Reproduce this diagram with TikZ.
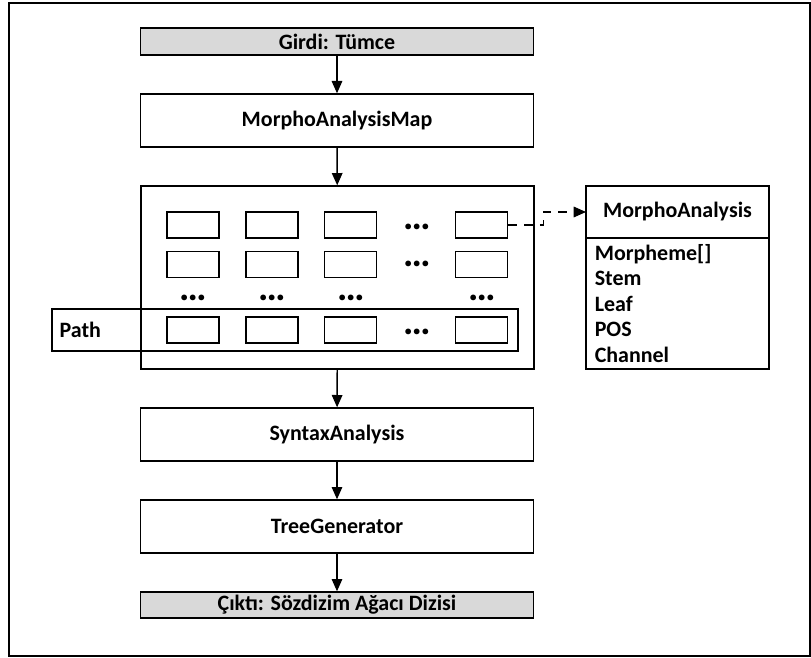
\documentclass[tikz,border=0pt]{standalone}
\usepackage{fontspec}
\setmainfont{Carlito}
\usetikzlibrary{arrows.meta,positioning}

\begin{document}
\begin{tikzpicture}[x=0.02cm, y=-0.02cm, >={Triangle[width=6pt,length=7pt]},
  font=\fontsize{12.5}{14.5}\selectfont\bfseries,
  box/.style={draw, line width=0.8pt, minimum width=7.86cm, minimum height=1.06cm, inner sep=0pt},
  iobox/.style={box, fill=black!15, minimum height=0.54cm},
  cell/.style={draw, line width=0.8pt, minimum width=1.04cm, minimum height=0.52cm, inner sep=0pt},
  dots/.style={inner sep=0pt, font=\fontsize{22}{22}\selectfont\bfseries},
  flow/.style={->, line width=0.8pt}]

  \useasboundingbox (0,0) rectangle (811,658);
  \draw[line width=1.2pt] (9,3) rectangle (810,656);

  \node[iobox] (inp) at (337,41.5) {Girdi: Tümce};
  \node[box] (mapbox) at (337,120.5) {MorphoAnalysisMap};
  \node[box, minimum height=3.66cm] (grid) at (337.5,277.5) {};
  \node[box] (syn) at (337,434.5) {SyntaxAnalysis};
  \node[box] (tree) at (337,526.5) {TreeGenerator};
  \node[iobox, minimum height=0.52cm] (out) at (337,605) {Çıktı: Sözdizim Ağacı Dizisi};

  \foreach \x/\i in {193/1, 272/2, 350.5/3, 481.5/4}
    \foreach \y/\j in {225/1, 264.5/2, 330/3}
      \node[cell] (c\j\i) at (\x,\y) {};

  \foreach \y/\j in {227/1, 264/2, 332/3}
    \node[dots] (dc\j) at (417,\y) {…};
  \foreach \x/\i in {193/1, 272/2, 351/3, 482/4}
    \node[dots] (dr\i) at (\x,298) {…};

  \node[draw, line width=0.8pt, minimum width=9.32cm, minimum height=0.84cm] (path) at (285,330) {};
  \node[anchor=west, inner sep=0pt] (pathlbl) at ([xshift=0.16cm]path.west) {Path};

  \node[draw, line width=0.8pt, outer sep=0pt, minimum width=3.66cm, minimum height=1.04cm] (mahead) at (677.5,212) {MorphoAnalysis};
  \node[draw, line width=0.8pt, outer sep=0pt, text width=3.66cm-10pt, inner xsep=5pt,
        minimum height=2.62cm, align=left, below=0pt of mahead] (mabody)
        {Morpheme[]\\Stem\\Leaf\\POS\\Channel};

  \draw[flow] (inp) -- (mapbox);
  \draw[flow] (mapbox) -- (grid);
  \draw[flow] (grid) -- (syn);
  \draw[flow] (syn) -- (tree);
  \draw[flow] (tree) -- (out);
  \draw[flow, dash pattern=on 5pt off 4pt] (c14.east) -- ++(35,0) |- (mahead.west);
\end{tikzpicture}
\end{document}
